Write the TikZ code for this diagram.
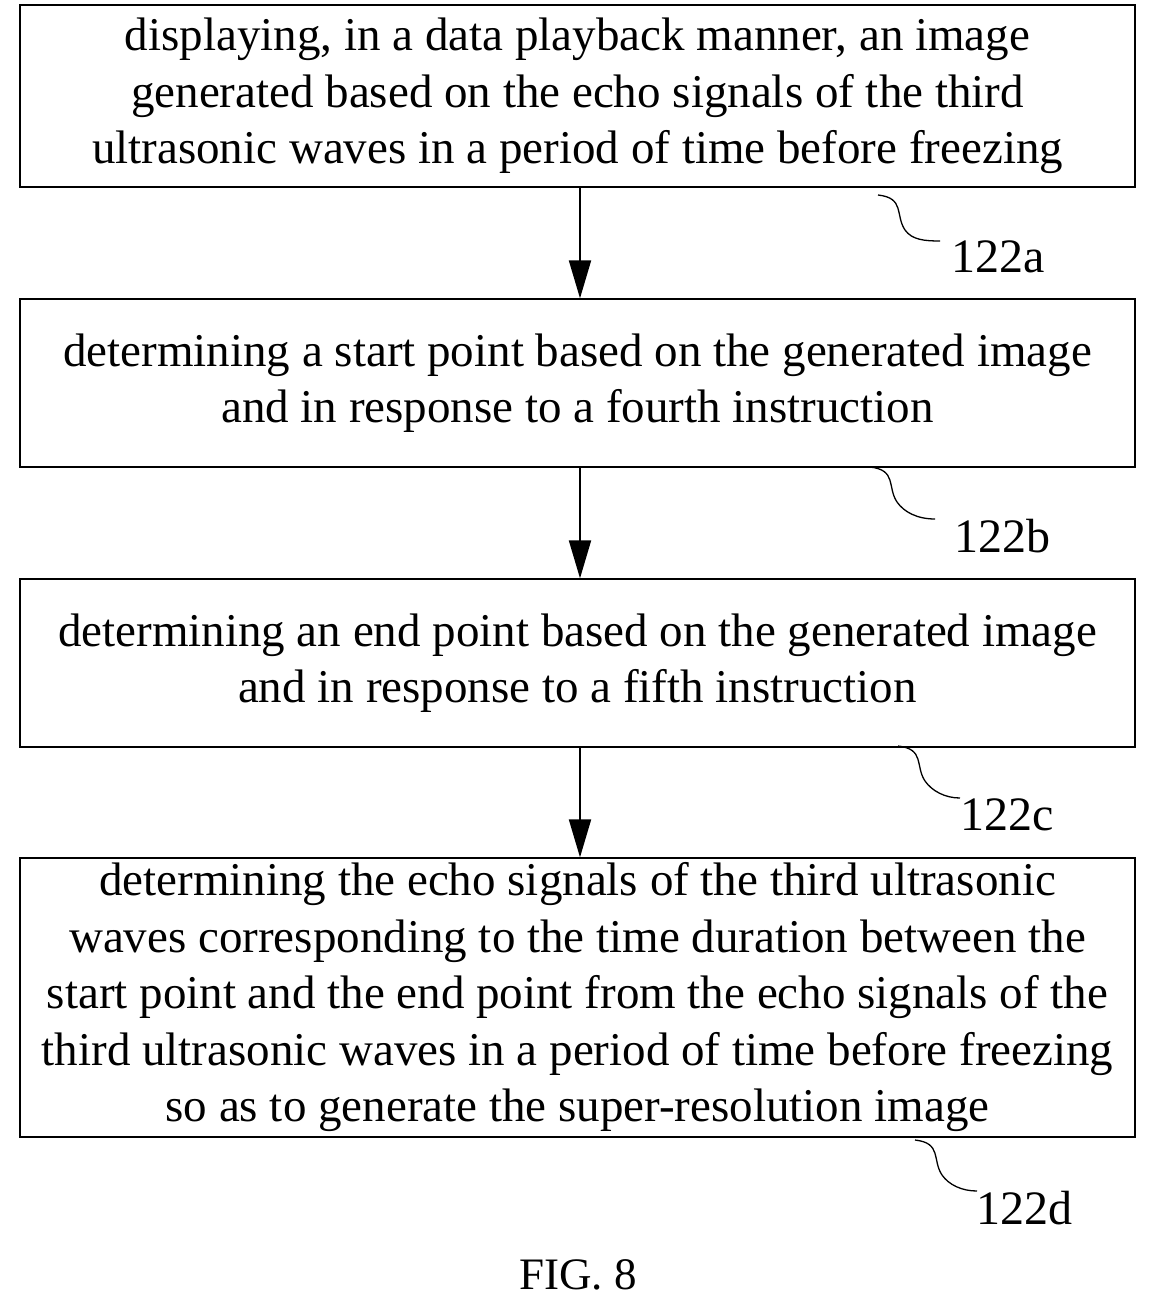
\documentclass[tikz,border=0pt]{standalone}
\usepackage{fontspec}
\setmainfont{Liberation Serif}
\usetikzlibrary{arrows.meta}
\begin{document}
\begin{tikzpicture}[x=1pt,y=-1pt,
  box/.style={draw,line width=1.3pt,font=\fontsize{47}{56.5}\selectfont,align=center,inner sep=0pt},
  arr/.style={-{Triangle[length=38pt,width=22pt]},line width=2pt},
  lab/.style={font=\fontsize{48}{52}\selectfont},
  sq/.style={line width=1.3pt}]
\useasboundingbox (0,0) rectangle (1156,1311);
\node[box,minimum width=1115pt,minimum height=182pt] (b1) at (577.5,96) {displaying, in a data playback manner, an image\\generated based on the echo signals of the third\\ultrasonic waves in a period of time before freezing};
\node[box,minimum width=1115pt,minimum height=168pt] (b2) at (577.5,383) {determining a start point based on the generated image\\and in response to a fourth instruction};
\node[box,minimum width=1115pt,minimum height=168pt] (b3) at (577.5,663) {determining an end point based on the generated image\\and in response to a fifth instruction};
\node[box,minimum width=1115pt,minimum height=279pt] (b4) at (577.5,997.5) {determining the echo signals of the third ultrasonic\\waves corresponding to the time duration between the\\start point and the end point from the echo signals of the\\third ultrasonic waves in a period of time before freezing\\so as to generate the super-resolution image};
\draw[arr] (b1.south -| 580,0) -- (b2.north -| 580,0);
\draw[arr] (b2.south -| 580,0) -- (b3.north -| 580,0);
\draw[arr] (b3.south -| 580,0) -- (b4.north -| 580,0);
\node[lab] (l1) at (998,257) {122a};
\node[lab] (l2) at (1002,536) {122b};
\node[lab] (l3) at (1007,815) {122c};
\node[lab] (l4) at (1024,1208) {122d};
\draw[sq] (878,195) .. controls (905,198) and (895,215) .. (905,230) .. controls (912,240) and (925,241) .. (940,241);
\draw[sq] (870,467) .. controls (897,470) and (887,487) .. (897,502) .. controls (904,512) and (917,519) .. (935,519);
\draw[sq] (898,746) .. controls (925,749) and (915,766) .. (925,781) .. controls (932,791) and (945,798) .. (960,798);
\draw[sq] (915,1140) .. controls (942,1143) and (932,1160) .. (942,1175) .. controls (949,1185) and (962,1191) .. (977,1191);
\node[lab,font=\fontsize{45}{50}\selectfont] (fig) at (578,1275) {FIG. 8};
\end{tikzpicture}
\end{document}
